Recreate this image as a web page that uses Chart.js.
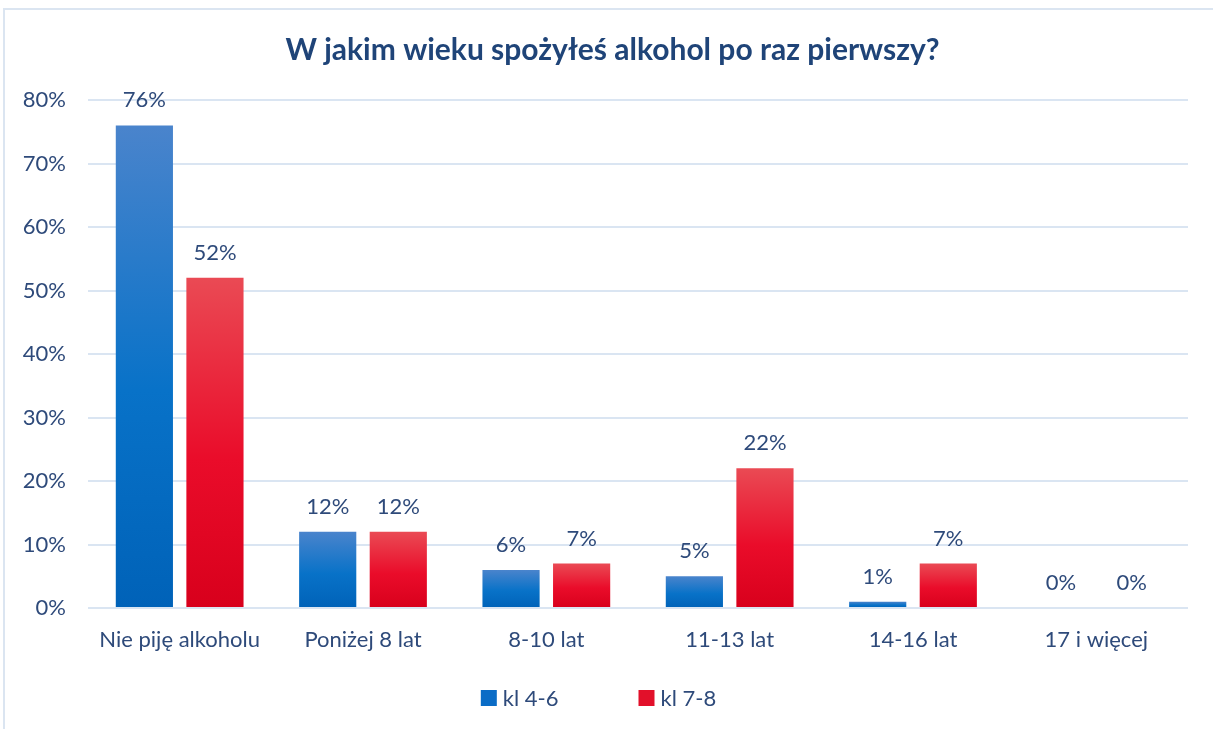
<!DOCTYPE html>
<html lang="pl">
<head>
<meta charset="utf-8">
<title>W jakim wieku spożyłeś alkohol po raz pierwszy?</title>
<script src="https://cdn.jsdelivr.net/npm/chart.js@4.4.1/dist/chart.umd.min.js"></script>
<style>
  html, body { margin: 0; padding: 0; background: #fff; overflow: hidden; }
  #frame {
    position: absolute; left: 3px; top: 8px; width: 1230px; height: 740px;
    border-left: 2px solid #dbe5f1; border-top: 2px solid #dbe5f1;
  }
  #wrap { position: absolute; left: 0; top: 0; width: 1213px; height: 729px; }
</style>
</head>
<body>
<div id="frame"></div>
<div id="wrap"><canvas id="ageChart" width="1213" height="729"></canvas></div>
<script>
const categories = ['Nie piję alkoholu', 'Poniżej 8 lat', '8-10 lat', '11-13 lat', '14-16 lat', '17 i więcej'];
const kl46 = [76, 12, 6, 5, 1, 0];
const kl78 = [52, 12, 7, 22, 7, 0];
const yTicks = [0, 10, 20, 30, 40, 50, 60, 70, 80];

const chartTitle = 'W jakim wieku spożyłeś alkohol po raz pierwszy?';
const textColor = '#2e4a7a';
const FONT = 'Lato, "Open Sans", sans-serif';
const FONT_SIZE = 22;

// vertical gradient fitted to each bar
function barGradient(stops, solid) {
    return (c) => {
        if (c.type !== 'data') return solid;
        const chart = c.chart;
        if (!chart.chartArea) return solid;
        const y = chart.scales.y;
        const top = y.getPixelForValue(c.raw);
        const bottom = y.getPixelForValue(0);
        if (bottom - top < 2) return solid;
        const g = chart.ctx.createLinearGradient(0, top, 0, bottom);
        stops.forEach(([p, col]) => g.addColorStop(p, col));
        return g;
    };
}

const blueStops = [[0, '#4a84cc'], [0.55, '#0872c8'], [1, '#0062b8']];
const redStops = [[0, '#ea4a54'], [0.55, '#ea0c2a'], [1, '#d8001c']];
const legendColors = ['#0a6cc6', '#e2102a'];

// title centred on the whole canvas
const topTitle = {
    id: 'topTitle',
    afterDraw(chart) {
        const ctx = chart.ctx;
        ctx.save();
        ctx.font = 'bold 30px ' + FONT;
        ctx.fillStyle = '#1f4478';
        ctx.textAlign = 'center';
        ctx.textBaseline = 'middle';
        ctx.fillText(chartTitle, chart.width / 2 + 6, 50);
        ctx.restore();
    }
};

// value labels above the bars
const valueLabels = {
    id: 'valueLabels',
    afterDatasetsDraw(chart) {
        const ctx = chart.ctx;
        ctx.save();
        ctx.font = FONT_SIZE + 'px ' + FONT;
        ctx.fillStyle = textColor;
        ctx.textAlign = 'center';
        ctx.textBaseline = 'middle';
        chart.data.datasets.forEach((ds, i) => {
            chart.getDatasetMeta(i).data.forEach((bar, j) => {
                ctx.fillText(ds.data[j] + '%', bar.x, bar.y - 25);
            });
        });
        ctx.restore();
    }
};

// legend row under the axis, wide gap between the two entries
const bottomLegend = {
    id: 'bottomLegend',
    afterDraw(chart) {
        const ctx = chart.ctx;
        const box = 16, gapText = 6, gapItem = 80;
        ctx.save();
        ctx.font = FONT_SIZE + 'px ' + FONT;
        const items = chart.data.datasets.map((ds, i) => ({
            text: ds.label, color: legendColors[i], w: box + gapText + ctx.measureText(ds.label).width
        }));
        const total = items.reduce((s, it) => s + it.w, 0) + gapItem * (items.length - 1);
        let x = chart.width / 2 - 8 - total / 2;
        const y = chart.height - 31;
        ctx.textBaseline = 'middle';
        ctx.textAlign = 'left';
        items.forEach(it => {
            ctx.fillStyle = it.color;
            ctx.fillRect(x, y - box / 2, box, box);
            ctx.fillStyle = textColor;
            ctx.fillText(it.text, x + box + gapText, y + 1);
            x += it.w + gapItem;
        });
        ctx.restore();
    }
};

new Chart(document.getElementById('ageChart').getContext('2d'), {
    type: 'bar',
    data: {
        labels: categories,
        datasets: [{
            label: 'kl 4-6',
            data: kl46,
            backgroundColor: barGradient(blueStops, legendColors[0])
        }, {
            label: 'kl 7-8',
            data: kl78,
            backgroundColor: barGradient(redStops, legendColors[1])
        }]
    },
    options: {
        responsive: false,
        animation: false,
        layout: { padding: { left: 0, right: 25, top: 100, bottom: 63 } },
        datasets: {
            bar: { categoryPercentage: 0.77, barPercentage: 0.81 }
        },
        scales: {
            x: {
                grid: { display: false, drawTicks: false },
                border: { display: false },
                ticks: { color: textColor, font: { family: FONT, size: FONT_SIZE }, padding: 19 },
                afterFit(scale) { scale.height = 58; }
            },
            y: {
                min: 0,
                max: 80,
                afterBuildTicks(scale) { scale.ticks = yTicks.map(v => ({ value: v })); },
                grid: { color: '#dae5f2', lineWidth: 2, drawTicks: false },
                border: { display: false },
                ticks: {
                    color: textColor,
                    font: { family: FONT, size: FONT_SIZE },
                    padding: 22,
                    callback: v => v + '%'
                },
                afterFit(scale) { scale.width = 88; }
            }
        },
        plugins: {
            title: { display: false },
            legend: { display: false },
            tooltip: { enabled: false }
        }
    },
    plugins: [valueLabels, bottomLegend, topTitle]
});
</script>
</body>
</html>
